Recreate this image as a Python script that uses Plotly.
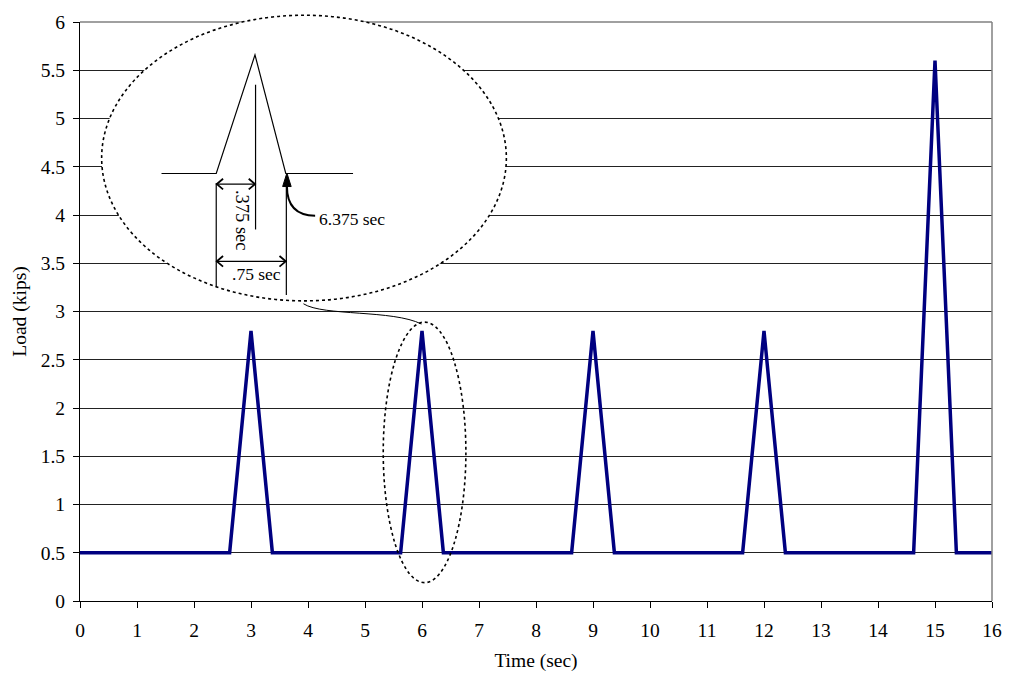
import plotly.graph_objects as go

# Load history: 0.5 kip base load with triangular pulses of 0.75 s duration
time_s = [0, 2.625, 3, 3.375, 5.625, 6, 6.375, 8.625, 9, 9.375,
          11.625, 12, 12.375, 14.625, 15, 15.375, 16]
load_kips = [0.5, 0.5, 2.8, 0.5, 0.5, 2.8, 0.5, 0.5, 2.8, 0.5,
             0.5, 2.8, 0.5, 0.5, 5.6, 0.5, 0.5]

x_ticks = list(range(0, 17))
y_ticks = [0, 0.5, 1, 1.5, 2, 2.5, 3, 3.5, 4, 4.5, 5, 5.5, 6]
y_ticktext = ["0", "0.5", "1", "1.5", "2", "2.5", "3", "3.5", "4", "4.5", "5", "5.5", "6"]

X_RANGE = (0, 16)
Y_RANGE = (0, 6)

FONT = "Times New Roman, Liberation Serif, serif"
NAVY = "#000080"


def px(x):
    return (x - X_RANGE[0]) / (X_RANGE[1] - X_RANGE[0])


def py(y):
    return (y - Y_RANGE[0]) / (Y_RANGE[1] - Y_RANGE[0])


def path(points, close=False):
    s = "M " + " L ".join(f"{px(x):.5f},{py(y):.5f}" for x, y in points)
    return s + (" Z" if close else "")


fig = go.Figure()
fig.add_trace(go.Scatter(x=time_s, y=load_kips, mode="lines",
                         line=dict(color=NAVY, width=3.5), hoverinfo="skip",
                         showlegend=False))

shapes = []
black = dict(color="black", width=1.2)

# plot frame (top and right edges)
shapes.append(dict(type="line", xref="paper", yref="paper", x0=0, y0=1, x1=1, y1=1,
                   line=dict(color="#808080", width=1.5), layer="above"))
shapes.append(dict(type="line", xref="paper", yref="paper", x0=1, y0=0, x1=1, y1=1,
                   line=dict(color="#808080", width=1.5), layer="above"))

# detail callout: large ellipse (opaque) and small ellipse around the 6 s pulse
shapes.append(dict(type="circle", xref="paper", yref="paper",
                   x0=px(0.38), x1=px(7.48), y0=py(3.11), y1=py(6.07),
                   line=dict(color="black", width=1.6, dash="dot"),
                   fillcolor="white", layer="above"))
shapes.append(dict(type="circle", xref="paper", yref="paper",
                   x0=px(5.32), x1=px(6.77), y0=py(0.19), y1=py(2.89),
                   line=dict(color="black", width=1.6, dash="dot"), layer="above"))

# leader curve between the ellipses
shapes.append(dict(type="path", xref="paper", yref="paper",
                   path=(f"M {px(3.92):.5f},{py(3.08):.5f} "
                         f"C {px(4.27):.5f},{py(2.95):.5f} {px(5.49):.5f},{py(3.02):.5f} "
                         f"{px(5.99):.5f},{py(2.87):.5f}"),
                   line=dict(color="black", width=1), layer="above"))

# schematic pulse inside the callout
base_y = 4.43
shapes.append(dict(type="path", xref="paper", yref="paper",
                   path=path([(1.43, base_y), (2.39, base_y), (3.07, 5.66),
                              (3.61, base_y), (4.79, base_y)]),
                   line=black, layer="above"))
# dimension lines
for (xa, ya, xb, yb) in [(3.08, 5.35, 3.08, 3.85),
                         (2.39, 4.33, 2.39, 3.25),
                         (3.62, 4.31, 3.62, 3.17),
                         (2.39, 4.32, 3.08, 4.32),
                         (2.39, 3.52, 3.62, 3.52)]:
    shapes.append(dict(type="path", xref="paper", yref="paper",
                       path=path([(xa, ya), (xb, yb)]), line=black, layer="above"))

# open arrowheads on the dimension lines
hx, hy = 0.11, 0.055
for (tipx, tipy, d) in [(2.40, 4.32, 1), (3.07, 4.32, -1),
                        (2.40, 3.52, 1), (3.61, 3.52, -1)]:
    shapes.append(dict(type="path", xref="paper", yref="paper",
                       path=path([(tipx + d * hx, tipy + hy), (tipx, tipy),
                                  (tipx + d * hx, tipy - hy)]),
                       line=dict(color="black", width=1.8), layer="above"))

# curved pointer to the end of the pulse
shapes.append(dict(type="path", xref="paper", yref="paper",
                   path=(f"M {px(4.125):.5f},{py(3.993):.5f} "
                         f"Q {px(3.63):.5f},{py(3.993):.5f} {px(3.63):.5f},{py(4.30):.5f}"),
                   line=dict(color="black", width=2), layer="above"))
shapes.append(dict(type="path", xref="paper", yref="paper",
                   path=path([(3.63, 4.435), (3.555, 4.295), (3.705, 4.295)], close=True),
                   line=dict(color="black", width=1), fillcolor="black", layer="above"))

annotations = [
    dict(x=px(2.84), y=py(3.94), xref="paper", yref="paper", text=".375 sec",
         xanchor="center", yanchor="middle",
         showarrow=False, textangle=90, font=dict(family=FONT, size=18.5, color="black")),
    dict(x=px(3.10), y=py(3.39), xref="paper", yref="paper", text=".75 sec",
         xanchor="center", yanchor="middle",
         showarrow=False, font=dict(family=FONT, size=17.5, color="black")),
    dict(x=px(4.16), y=py(3.96), xref="paper", yref="paper", text="6.375 sec",
         xanchor="left", yanchor="middle",
         showarrow=False, font=dict(family=FONT, size=17.5, color="black")),
]

fig.update_layout(
    width=1014, height=679,
    margin=dict(l=80, r=16, t=16, b=78),
    paper_bgcolor="white", plot_bgcolor="white",
    font=dict(family=FONT, size=19.5, color="black"),
    shapes=shapes, annotations=annotations,
    showlegend=False,
)
fig.update_xaxes(range=list(X_RANGE), tickvals=x_ticks, ticks="outside", ticklen=6,
                 tickcolor="black", showline=True, linecolor="black", linewidth=1,
                 showgrid=False, zeroline=False, ticklabelstandoff=6,
                 title=dict(text="Time (sec)", font=dict(size=19.5), standoff=12),
                 tickfont=dict(size=19.5))
fig.update_yaxes(range=list(Y_RANGE), tickvals=y_ticks, ticktext=y_ticktext,
                 ticks="outside", ticklen=6, tickcolor="black",
                 showline=True, linecolor="black", linewidth=1, ticklabelstandoff=4,
                 showgrid=True, gridcolor="#222222", gridwidth=1, zeroline=False,
                 title=dict(text="Load (kips)", font=dict(size=19.5), standoff=8),
                 tickfont=dict(size=19.5))

fig.write_html("out.html")
